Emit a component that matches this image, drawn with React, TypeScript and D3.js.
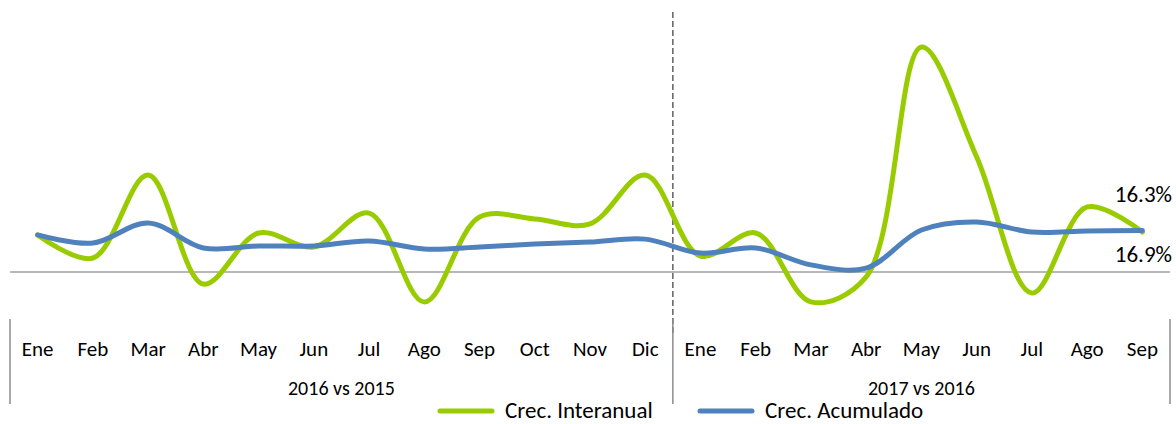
import React, { useEffect, useRef } from 'react';
import * as d3 from 'd3';

const months = ['Ene', 'Feb', 'Mar', 'Abr', 'May', 'Jun', 'Jul', 'Ago', 'Sep', 'Oct', 'Nov', 'Dic',
    'Ene', 'Feb', 'Mar', 'Abr', 'May', 'Jun', 'Jul', 'Ago', 'Sep'];
const groups = ['2016 vs 2015', '2017 vs 2016'];
const groupSizes = [12, 9];

const interanual = [15.1, 5.7, 39.5, -4.9, 15.9, 10.2, 24.0, -12.2, 22.4, 21.6, 19.6, 39.5,
    6.5, 15.9, -12.2, -2.0, 91.7, 46.9, -8.6, 26.5, 16.3];
const acumulado = [15.1, 11.8, 20.0, 9.8, 10.6, 10.6, 12.6, 9.4, 10.2, 11.4, 12.2, 13.4,
    7.7, 9.8, 2.9, 1.6, 17.1, 20.4, 16.3, 16.7, 16.9];

const W = 1176;
const H = 424;
const FONT = "Carlito, Calibri, sans-serif";

export default function App() {
    const ref = useRef<SVGSVGElement>(null);

    useEffect(() => {
        const svg = d3.select(ref.current);
        svg.selectAll('*').remove();

        const left = 10;
        const right = 1170;
        const x = d3.scaleBand<number>()
            .domain(d3.range(months.length))
            .range([left, right]);
        const cx = (i: number) => (x(i) as number) + x.bandwidth() / 2;

        // zero line at 272, 40px for 16.3
        const pxPer = 40 / 16.3;
        const y = d3.scaleLinear()
            .domain([-20, 100])
            .range([272 + 20 * pxPer, 272 - 100 * pxPer]);

        // base line
        svg.append('line')
            .attr('x1', left).attr('x2', right)
            .attr('y1', y(0)).attr('y2', y(0))
            .attr('stroke', '#a0a0a0')
            .attr('stroke-width', 1.5);

        // year split
        const splitX = x(groupSizes[0]) as number;
        svg.append('line')
            .attr('x1', splitX).attr('x2', splitX)
            .attr('y1', 12).attr('y2', 336)
            .attr('stroke', '#555')
            .attr('stroke-width', 1.4)
            .attr('stroke-dasharray', '6,3');

        const line = d3.line<number>()
            .x((d, i) => cx(i))
            .y(d => y(d))
            .curve(d3.curveCatmullRom.alpha(0.5));

        svg.append('path')
            .attr('d', line(interanual))
            .attr('fill', 'none')
            .attr('stroke', '#99cc00')
            .attr('stroke-width', 5)
            .attr('stroke-linecap', 'round');

        svg.append('path')
            .attr('d', line(acumulado))
            .attr('fill', 'none')
            .attr('stroke', '#4f81bd')
            .attr('stroke-width', 5)
            .attr('stroke-linecap', 'round');

        // month labels
        svg.append('g')
            .selectAll('text')
            .data(months)
            .enter()
            .append('text')
            .attr('x', (d, i) => cx(i))
            .attr('y', 356)
            .attr('text-anchor', 'middle')
            .attr('font-family', FONT)
            .attr('font-size', 21)
            .attr('fill', '#000')
            .text(d => d);

        // group separators and labels
        let start = 0;
        const seps = [left];
        groups.forEach((g, k) => {
            const x0 = x(start) as number;
            const x1 = (x(start + groupSizes[k] - 1) as number) + x.bandwidth();
            seps.push(x1);
            svg.append('text')
                .attr('x', (x0 + x1) / 2)
                .attr('y', 395)
                .attr('text-anchor', 'middle')
                .attr('font-family', FONT)
                .attr('font-size', 20)
                .text(g);
            start += groupSizes[k];
        });
        svg.append('g')
            .selectAll('line')
            .data(seps)
            .enter()
            .append('line')
            .attr('x1', d => d).attr('x2', d => d)
            .attr('y1', 319).attr('y2', 404)
            .attr('stroke', '#8c8c8c')
            .attr('stroke-width', 1.5);

        // end labels
        const last = months.length - 1;
        svg.append('text')
            .attr('x', 1172).attr('y', 202)
            .attr('text-anchor', 'end')
            .attr('font-family', FONT)
            .attr('font-size', 23)
            .text(d3.format('.1f')(interanual[last]) + '%');
        svg.append('text')
            .attr('x', 1172).attr('y', 262)
            .attr('text-anchor', 'end')
            .attr('font-family', FONT)
            .attr('font-size', 23)
            .text(d3.format('.1f')(acumulado[last]) + '%');

        // legend
        const legend = [
            { name: 'Crec. Interanual', color: '#99cc00', x: 440 },
            { name: 'Crec. Acumulado', color: '#4f81bd', x: 700 },
        ];
        const lg = svg.append('g')
            .selectAll('g')
            .data(legend)
            .enter()
            .append('g')
            .attr('transform', d => `translate(${d.x},411)`);
        lg.append('line')
            .attr('x1', 0).attr('x2', 52)
            .attr('stroke', d => d.color)
            .attr('stroke-width', 5)
            .attr('stroke-linecap', 'round');
        lg.append('text')
            .attr('x', 65).attr('y', 7)
            .attr('font-family', FONT)
            .attr('font-size', 23)
            .text(d => d.name);
    }, []);

    return (
        <svg ref={ref} width={W} height={H}
            style={{ position: 'absolute', left: 0, top: 0, background: '#fff' }} />
    );
}
